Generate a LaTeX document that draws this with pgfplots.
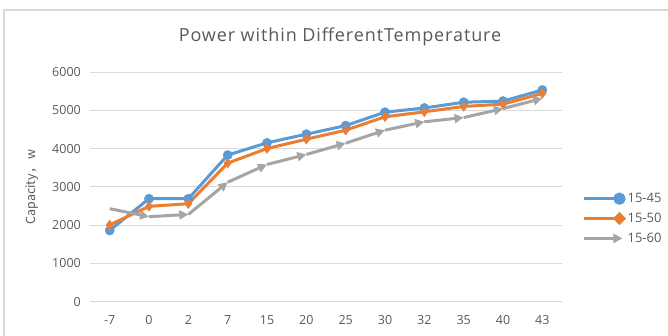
\documentclass[border=0pt]{standalone}
\usepackage{pgfplots}
\pgfplotsset{compat=1.18}
\usetikzlibrary{arrows.meta}
\usepackage{fontspec}
\setmainfont{Open Sans}
\newfontfamily\cjk{Noto Sans CJK SC}
\definecolor{s1}{HTML}{5B9BD5}
\definecolor{s2}{HTML}{ED7D31}
\definecolor{s3}{HTML}{A5A5A5}
\definecolor{txt}{HTML}{595959}
\definecolor{grd}{HTML}{D9D9D9}
\begin{document}
\begin{tikzpicture}
\useasboundingbox (0,0) rectangle (668bp,336bp);
\draw[grd, line width=1.2bp] (4bp,-10bp) -- (4bp,326bp) -- (690bp,326bp);
\node[text=txt, font=\fontsize{18bp}{21bp}\selectfont\addfontfeature{LetterSpace=5}] at (340bp,299bp) {Power within DifferentTemperature};
\begin{axis}[
 at={(90bp,34.3bp)}, anchor=south west, scale only axis,
 width=472bp, height=229.7bp,
 xmin=-0.5, xmax=11.5, ymin=0, ymax=6000,
 xtick={0,...,11}, xticklabels={-7,0,2,7,15,20,25,30,32,35,40,43},
 ytick={0,1000,...,6000},
 ymajorgrids, grid style={grd, line width=1bp},
 axis line style={draw=none},
 major tick length=0pt,
 tick label style={text=txt, font=\fontsize{12.5bp}{15bp}\selectfont},
 /pgf/number format/assume math mode=true,
 /pgf/number format/1000 sep={},
 xticklabel style={inner sep=0pt, anchor=north, yshift=-14bp},
 yticklabel style={inner sep=0pt, anchor=east, xshift=-9bp},
 ylabel={\cjk Capacity，\,w},
 ylabel style={at={(-0.123,0.5)}, anchor=center, text=txt, font=\fontsize{12.5bp}{15bp}\selectfont},
 legend style={at={(1.044,0.362)}, anchor=west, draw=none, fill=none, inner sep=0pt,
   font=\fontsize{13bp}{15bp}\selectfont, text=txt, row sep=5bp},
 legend cell align=left,
 clip=false,
]
\addplot[s1, line width=3bp, mark=*, mark size=4.6bp, mark options={line width=0.5bp},
  legend image code/.code={\draw[s1,line width=3bp] (0bp,0bp) -- (35bp,0bp); \fill[s1] (35bp,0bp) circle (4.6bp);}]
 table {
x y
0 1860
1 2690
2 2690
3 3830
4 4150
5 4375
6 4600
7 4950
8 5060
9 5210
10 5240
11 5530
};
\addlegendentry{15-45}
\addplot[s2, line width=3bp, mark=diamond*, mark size=4.8bp, mark options={line width=0.5bp},
  legend image code/.code={\draw[s2,line width=3bp] (0bp,0bp) -- (35bp,0bp); \fill[s2] (30.5bp,0bp) -- (35bp,4.5bp) -- (39.5bp,0bp) -- (35bp,-4.5bp) -- cycle;}]
 table {
x y
0 2005
1 2490
2 2560
3 3620
4 4000
5 4245
6 4480
7 4830
8 4960
9 5100
10 5160
11 5440
};
\addlegendentry{15-50}
\addplot[s3, line width=3bp, mark=none, -{Triangle[length=9bp,width=9bp]},
  quiver={u=\thisrow{u}, v=\thisrow{v}},
  legend image code/.code={\draw[s3,line width=3bp,-{Triangle[length=9bp,width=9bp]}] (0bp,0bp) -- (38bp,0bp);}]
 table {
x y u v
0 2430 1 -210
1 2220 1 60
2 2280 1 840
3 3120 1 465
4 3585 1 260
5 3845 1 295
6 4140 1 340
7 4480 1 220
8 4700 1 110
9 4810 1 235
10 5045 1 265
};
\addlegendentry{15-60}
\end{axis}
\end{tikzpicture}
\end{document}
